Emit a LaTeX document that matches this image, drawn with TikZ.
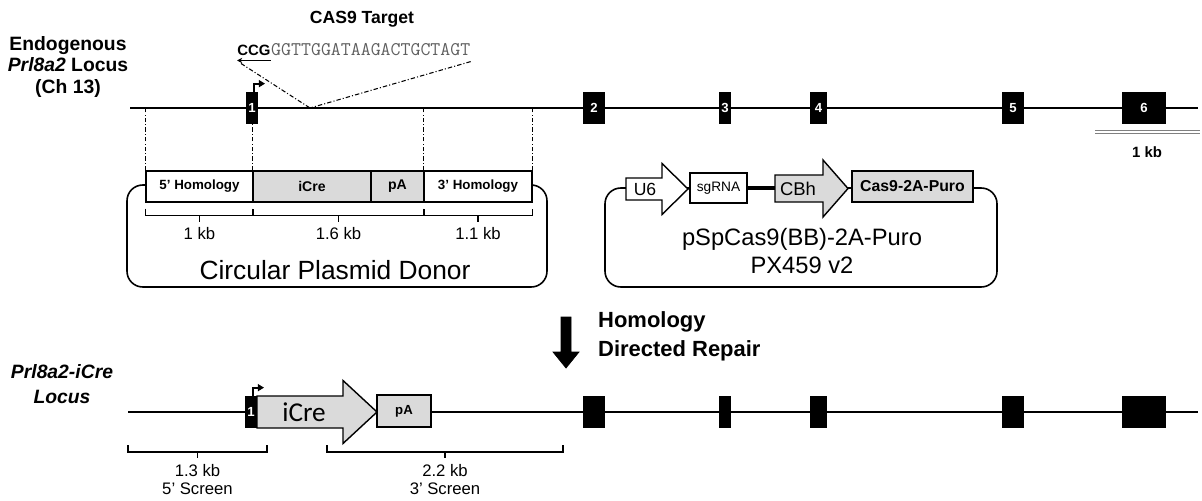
\documentclass[tikz,border=0pt]{standalone}
\usepackage{fontspec}
\setmainfont{Liberation Sans}
\newfontfamily\carlito{Carlito}
\usetikzlibrary{arrows.meta,calc}
\definecolor{fillgray}{RGB}{218,218,218}
\definecolor{seqgray}{RGB}{95,95,95}
\newcommand\fsz[2]{\fontsize{#1}{#2}\selectfont}
\def\upx{0.02cm}
% right-pointing block arrow: style, tail x, neck x, tip x, mid y, half body, half head
\newcommand\rightblock[7]{\draw[#1] (#2,#5-#6) -- (#3,#5-#6) -- (#3,#5-#7) -- (#4,#5) -- (#3,#5+#7) -- (#3,#5+#6) -- (#2,#5+#6) -- cycle;}
% size bracket under a span: left tip, right tip, label name, label text
\newcommand\spanmark[4]{%
  \draw[brk] (#1) -- ++(0,7) -| (#2);
  \draw[brk] ($(#1)!0.5!(#2)+(0,7)$) -- ++(0,6);
  \node[lbl, anchor=base] (#3) at ($(#1)!0.5!(#2)+(0,31)$) {#4};}
\begin{document}
\begin{tikzpicture}[x=0.02cm, y=-0.02cm,
  locus/.style={line width=1.6pt},
  exon/.style={fill=black, draw=none, inner sep=0pt, text=white, font=\bfseries\fsz{7.5}{8}, minimum height=32*\upx},
  guide/.style={line width=0.6pt, dash pattern=on 2.5pt off 1.2pt on 0.6pt off 1.2pt},
  seg/.style={draw, line width=0.7pt, inner sep=0pt, minimum height=31*\upx},
  brk/.style={line width=0.7pt},
  lbl/.style={inner sep=0pt, font=\fsz{9.5}{10}},
  plasmid/.style={line width=0.9pt, rounded corners=9pt},
  tss/.style={line width=1.1pt, -{Triangle[length=3.5pt,width=4pt]}},
]
\useasboundingbox (0,0) rectangle (1202,500);

% ---------- endogenous locus ----------
\node[align=center, font=\bfseries\fsz{11}{12.2}] (endo) at (68,67) {Endogenous\\\textit{Prl8a2} Locus\\(Ch 13)};
\coordinate (tA) at (130,108);
\coordinate (tB) at (1198,108);
\draw[locus] (tA) -- (tB);
\foreach \n/\cx/\w in {1/252/12, 2/594/22, 3/725/12, 4/818.5/17, 5/1013/22, 6/1144/44}
  \node[exon, minimum width=\w*\upx] (t\n) at (\cx,108) {\n};
\draw[tss] ($(t1.north)+(2,0)$) -- ++(0,-8) -- ++(11,0);

% sgRNA target
\node[font=\bfseries\fsz{10}{11}] (castitle) at (362,19) {CAS9 Target};
\node[anchor=base west, inner sep=0pt, font=\bfseries\fsz{8.5}{9}] (pam) at (237,56) {CCG};
\node[anchor=base west, inner sep=0pt, text=seqgray, font=\ttfamily\fsz{11}{11}] (proto) at (pam.base east) {GGTTGGATAAGACTGCTAGT};
\draw[line width=0.8pt, -{Stealth[length=3pt,width=3pt]}] ($(pam.south east)+(0,4)$) -- ($(pam.south west)+(0,4)$);
\coordinate (cut) at (310,108);
\draw[guide] ($(pam.south west)+(4,7)$) -- (cut);
\draw[guide] ($(proto.south east)+(0,5)$) -- (cut);

% scale bar
\coordinate (sbA) at (1095,132);
\coordinate (sbB) at (1200,132);
\draw[draw=gray, double=white, double distance=1.2pt, line width=0.7pt] (sbA) -- (sbB);
\node[font=\bfseries\fsz{8.5}{9}] (sbl) at (1147,152) {1 kb};

% ---------- donor plasmid ----------
\draw[plasmid] (127,185) rectangle (547,287);
\node[seg, fill=white, minimum width=107*\upx, font=\bfseries\fsz{7.6}{8}] (h5) at (199.5,186.5) {5' Homology};
\node[seg, fill=fillgray, minimum width=118*\upx, font=\bfseries\fsz{8}{9}] (ic) at (312,186.5) {iCre};
\node[seg, fill=fillgray, minimum width=53*\upx, font=\bfseries\fsz{8}{9}] (pa) at (397.5,186.5) {pA};
\node[seg, fill=white, minimum width=108*\upx, font=\bfseries\fsz{7.6}{8}] (h3) at (478,186.5) {3' Homology};
\draw[guide] (h5.north west) -- (h5.north west |- tA);
\draw[guide] (ic.north west) -- (ic.north west |- t1.south);
\draw[guide] (h3.north west) -- (h3.north west |- tA);
\draw[guide] (h3.north east) -- (h3.north east |- tA);
\coordinate (d1a) at ($(h5.south west)+(0,6)$);
\coordinate (d1b) at ($(h5.south east)+(0,6)$);
\coordinate (d2a) at ($(ic.south west)+(0,6)$);
\coordinate (d2b) at ($(pa.south east)+(0,6)$);
\coordinate (d3a) at ($(h3.south west)+(0,6)$);
\coordinate (d3b) at ($(h3.south east)+(0,6)$);
\spanmark{d1a}{d1b}{k1}{1 kb}
\spanmark{d2a}{d2b}{k2}{1.6 kb}
\spanmark{d3a}{d3b}{k3}{1.1 kb}
\node[font=\fsz{15}{16}] (donor) at (335,270) {Circular Plasmid Donor};

% ---------- Cas9 plasmid ----------
\draw[plasmid] (605,188) rectangle (997,287);
\rightblock{draw, fill=white, line width=0.8pt}{626}{662}{688}{189}{11}{25.5}
\node[font=\fsz{10}{10}] (u6) at (645,189) {U6};
\node[seg, fill=white, minimum width=57*\upx, minimum height=30*\upx, font=\fsz{7.8}{8}] (sg) at (718.5,188) {sgRNA};
\coordinate (cbhtail) at (775,188);
\draw[line width=1.8pt] (sg.east) -- (cbhtail);
\rightblock{draw, fill=fillgray, line width=0.8pt}{775}{823}{848}{188.5}{13.5}{28.5}
\node[font=\fsz{10.5}{11}] (cbh) at (798,188.5) {CBh};
\node[seg, fill=fillgray, minimum width=121*\upx, font=\bfseries\fsz{9}{10}] (cas9) at (912.5,186.5) {Cas9-2A-Puro};
\node[align=center, font=\fsz{13.5}{15.5}] (px) at (802,251) {pSpCas9(BB)-2A-Puro\\PX459 v2};

% ---------- homology directed repair ----------
\draw[fill=black] (561,317) -- (571,317) -- (571,352) -- (579,352) -- (566,368) -- (553,352) -- (561,352) -- cycle;
\node[anchor=west, align=left, font=\bfseries\fsz{12.5}{16.5}] (hdr) at (592,336) {Homology\\Directed Repair};

% ---------- targeted locus ----------
\node[align=center, font=\bfseries\itshape\fsz{11}{14}] (kiname) at (62,384) {Prl8a2-iCre\\Locus};
\coordinate (bA) at (128,412);
\coordinate (bB) at (1198,412);
\draw[locus] (bA) -- (bB);
\rightblock{draw, fill=fillgray, line width=0.8pt}{257}{343}{377}{412}{16}{31.5}
\node[font=\carlito\fsz{15.5}{16}] (icb) at (304,412) {iCre};
\node[seg, fill=fillgray, minimum width=54*\upx, minimum height=32*\upx, font=\bfseries\fsz{7.5}{8}] (pab) at (404,411) {pA};
\node[exon, minimum width=12*\upx] (b1) at (251,412) {1};
\foreach \n/\cx/\w in {2/594/22, 3/725/12, 4/818.5/17, 5/1013/22, 6/1144/44}
  \node[exon, minimum width=\w*\upx] (b\n) at (\cx,412) {};
\draw[tss] ($(b1.north)+(2,0)$) -- ++(0,-8) -- ++(11,0);
\coordinate (s5a) at (128,445);
\coordinate (s5b) at (267,445);
\coordinate (s3a) at (327,445);
\coordinate (s3b) at (563,445);
\spanmark{s5a}{s5b}{sc5}{1.3 kb}
\spanmark{s3a}{s3b}{sc3}{2.2 kb}
\node[lbl, anchor=base] (sc5t) at ($(sc5.base)+(0,18)$) {5' Screen};
\node[lbl, anchor=base] (sc3t) at ($(sc3.base)+(0,18)$) {3' Screen};
\end{tikzpicture}
\end{document}
